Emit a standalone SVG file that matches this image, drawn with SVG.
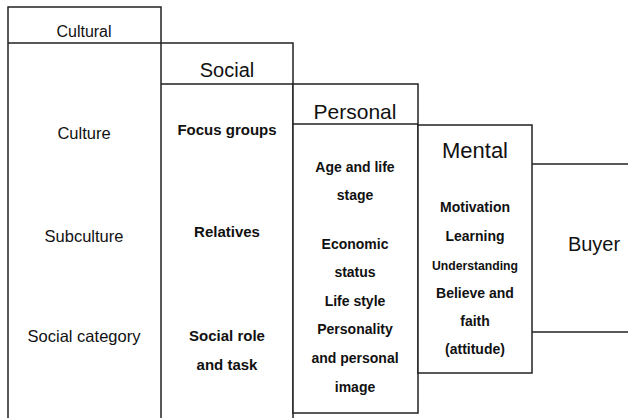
<svg xmlns="http://www.w3.org/2000/svg" width="628" height="418" viewBox="0 0 628 418">
<style>
.b{fill:#fff;stroke:#222;stroke-width:1.5}
.l{stroke:#222;stroke-width:1.5;fill:none}
text{font-family:"Liberation Sans","Open Sans",sans-serif;fill:#111;text-anchor:middle}
.h{font-size:20px}
.s{font-size:16.5px}
.t{font-size:14px;font-weight:bold}
.t2{font-size:15px;font-weight:bold}
</style>
<rect width="628" height="418" fill="#fff"/>
<g id="buyer">
<line class="l" x1="532" y1="164" x2="628" y2="164"/>
<line class="l" x1="532" y1="332" x2="628" y2="332"/>
<text class="h" x="594" y="251">Buyer</text>
</g>
<g id="cultural">
<path class="l" d="M8,420 V7 H161 V420 M8,43 H161"/>
<text x="84" y="37" style="font-size:16px">Cultural</text>
<text class="s" x="84" y="139">Culture</text>
<text class="s" x="84" y="242">Subculture</text>
<text class="s" x="84" y="342">Social category</text>
</g>
<g id="social">
<path class="l" d="M161,43 H293 V420 M161,84 H293"/>
<text class="h" x="227" y="77">Social</text>
<text class="t2" x="227" y="135">Focus groups</text>
<text class="t2" x="227" y="237">Relatives</text>
<text class="t2" x="227" y="341">Social role</text>
<text class="t2" x="227" y="370">and task</text>
</g>
<g id="personal">
<rect class="b" x="293" y="84" width="125" height="329"/>
<line class="l" x1="293" y1="124" x2="418" y2="124"/>
<text class="h" x="355" y="119" style="font-size:21px">Personal</text>
<text class="t" x="355" y="172">Age and life</text>
<text class="t" x="355" y="200">stage</text>
<text class="t" x="355" y="249">Economic</text>
<text class="t" x="355" y="277">status</text>
<text class="t" x="355" y="306">Life style</text>
<text class="t" x="355" y="334">Personality</text>
<text class="t" x="355" y="363">and personal</text>
<text class="t" x="355" y="392">image</text>
</g>
<g id="mental">
<rect class="b" x="418" y="125" width="114" height="248"/>
<text class="h" x="475" y="158" style="font-size:22px">Mental</text>
<text class="t" x="475" y="212">Motivation</text>
<text class="t" x="475" y="241">Learning</text>
<text class="t" x="475" y="270" style="font-size:12px" textLength="86" lengthAdjust="spacingAndGlyphs">Understanding</text>
<text class="t" x="475" y="298">Believe and</text>
<text class="t" x="475" y="326">faith</text>
<text class="t" x="475" y="354">(attitude)</text>
</g>
</svg>
